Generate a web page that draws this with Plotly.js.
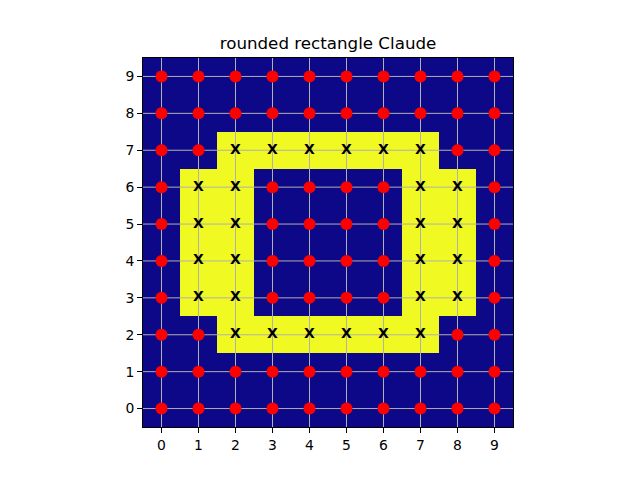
<!DOCTYPE html>
<html><head><meta charset="utf-8">
<script src="https://cdn.plot.ly/plotly-3.0.1.min.js"></script>
<style>html,body{margin:0;padding:0;background:#fff}#c{width:640px;height:480px}</style>
</head><body><div id="c"></div>
<script>
// grid values, row index = y (0 at bottom)
const xs = [0,1,2,3,4,5,6,7,8,9];
const ys = [0,1,2,3,4,5,6,7,8,9];
const grid = [
  [0,0,0,0,0,0,0,0,0,0],
  [0,0,0,0,0,0,0,0,0,0],
  [0,0,1,1,1,1,1,1,0,0],
  [0,1,1,0,0,0,0,1,1,0],
  [0,1,1,0,0,0,0,1,1,0],
  [0,1,1,0,0,0,0,1,1,0],
  [0,1,1,0,0,0,0,1,1,0],
  [0,0,1,1,1,1,1,1,0,0],
  [0,0,0,0,0,0,0,0,0,0],
  [0,0,0,0,0,0,0,0,0,0]
];
const tickLabels = ['0','1','2','3','4','5','6','7','8','9'];

const dotX=[],dotY=[],xX=[],xY=[];
ys.forEach((y,i)=>xs.forEach((x,j)=>{
  if(grid[i][j]) {xX.push(x);xY.push(y);} else {dotX.push(x);dotY.push(y);}
}));

const lo = -0.5, hi = 9.5;
// gridlines as a line trace, drawn between the image and the markers
const gX=[],gY=[];
xs.forEach(v=>{gX.push(v,v,null);gY.push(lo,hi,null);});
ys.forEach(v=>{gX.push(lo,hi,null);gY.push(v,v,null);});

const traces = [
  {type:'heatmap', x:xs, y:ys, z:grid, zmin:0, zmax:1,
   colorscale:[[0,'#0d0887'],[1,'#f0f921']], showscale:false, hoverinfo:'skip'},
  {type:'scatter', mode:'lines', x:gX, y:gY, line:{color:'#b0b0b0', width:1}, hoverinfo:'skip', cliponaxis:true},
  {type:'scatter', mode:'markers', x:dotX, y:dotY,
   marker:{color:'#ff0000', size:12, line:{width:0}}},
  {type:'scatter', mode:'text', x:xX, y:xY, text:xX.map(()=>'<b>X</b>'),
   textposition:'middle center',
   textfont:{family:'DejaVu Sans', size:14, color:'#000'}}
];

const axCommon = {
  tickmode:'array', ticks:'outside', ticklen:5, tickwidth:1, tickcolor:'#000',
  showgrid:false, zeroline:false, showline:true, linecolor:'#000', linewidth:1, mirror:true,
  tickfont:{family:'DejaVu Sans', size:13.9, color:'#000'}, fixedrange:true
};

const layout = {
  width:640, height:480,
  margin:{l:143, r:127, t:58, b:53},
  paper_bgcolor:'#fff', plot_bgcolor:'#fff',
  showlegend:false,
  title:{text:'rounded rectangle Claude', font:{family:'DejaVu Sans', size:16.7, color:'#000'},
         x:(143+513)/2/640, xanchor:'center', y:1-43/480, yanchor:'middle'},
  xaxis:Object.assign({}, axCommon, {range:[lo,hi], tickvals:xs, ticktext:tickLabels}),
  yaxis:Object.assign({}, axCommon, {range:[lo,hi], tickvals:ys, ticktext:tickLabels})
};

Plotly.newPlot('c', traces, layout, {displayModeBar:false, staticPlot:true});
</script></body></html>
